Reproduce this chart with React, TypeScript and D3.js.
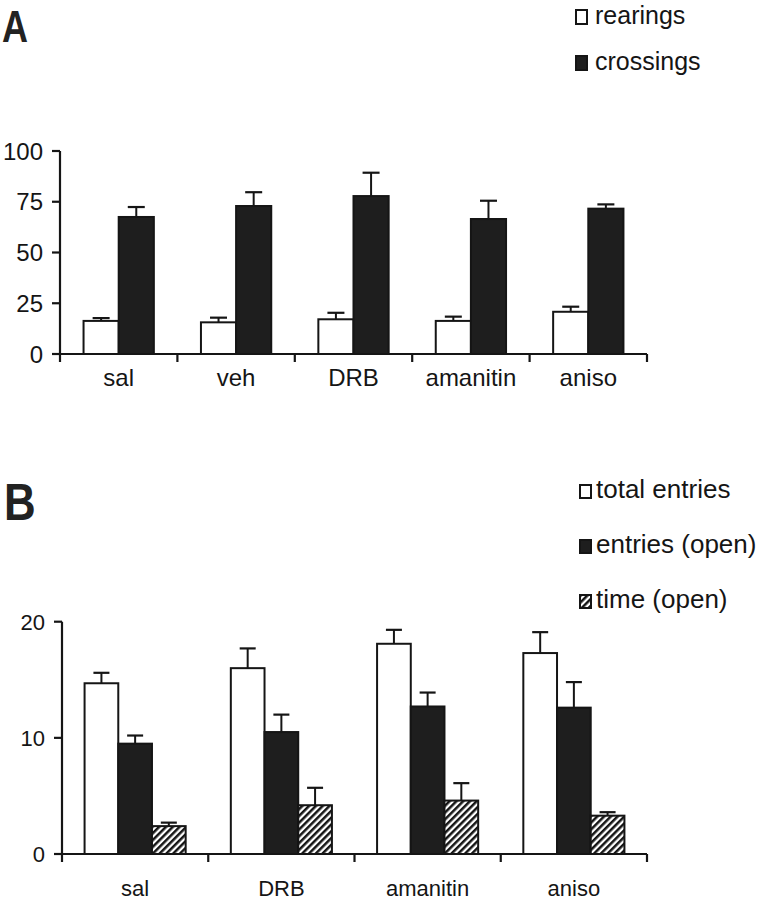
import React from "react";
import * as d3 from "d3";

const categoriesA = ["sal", "veh", "DRB", "amanitin", "aniso"];
const seriesA = ["rearings", "crossings"];
const rearings = [16.3, 15.6, 17.1, 16.3, 20.8];
const rearingsErr = [1.4, 2.3, 3.2, 2.1, 2.5];
const crossings = [67.5, 72.9, 77.8, 66.5, 71.6];
const crossingsErr = [4.9, 6.8, 11.5, 9.0, 2.1];
const ticksA = [0, 25, 50, 75, 100];

const categoriesB = ["sal", "DRB", "amanitin", "aniso"];
const seriesB = ["total entries", "entries (open)", "time (open)"];
const totalEntries = [14.7, 16.0, 18.1, 17.3];
const totalEntriesErr = [0.9, 1.7, 1.2, 1.8];
const entriesOpen = [9.5, 10.5, 12.7, 12.6];
const entriesOpenErr = [0.7, 1.5, 1.2, 2.2];
const timeOpen = [2.4, 4.2, 4.6, 3.3];
const timeOpenErr = [0.3, 1.5, 1.5, 0.3];
const ticksB = [0, 10, 20];

const FONT = "'Liberation Sans', Arial, Helvetica, sans-serif";
const INK = "#151515";
const DARK = "#1e1e1e";

type Panel = {
  cats: string[];
  series: string[];
  values: number[][];
  errs: number[][];
  fills: string[];
  ticks: number[];
  yMax: number;
  x0: number;
  x1: number;
  yTop: number;
  yBottom: number;
  tickFont: number;
  catFont: number;
  catBaseline: number;
  capW: number;
};

function BarPanel({ p }: { p: Panel }) {
  const x = d3.scaleBand<string>().domain(p.cats).range([p.x0, p.x1]).padding(0);
  const xs = d3
    .scaleBand<string>()
    .domain(p.series)
    .range([0, x.bandwidth()])
    .paddingInner(0)
    .paddingOuter(0.67);
  const y = d3.scaleLinear().domain([0, p.yMax]).range([p.yBottom, p.yTop]);
  const boundaries = p.cats.map((c) => x(c) as number).concat([p.x1]);
  return (
    <g>
      {p.cats.map((c, ci) =>
        p.series.map((s, si) => {
          const v = p.values[si][ci];
          const e = p.errs[si][ci];
          const bx = (x(c) as number) + (xs(s) as number);
          const bw = xs.bandwidth();
          const cx = bx + bw / 2;
          return (
            <g key={c + s}>
              <rect
                x={bx}
                y={y(v)}
                width={bw}
                height={y(0) - y(v)}
                fill={p.fills[si]}
                stroke={INK}
                strokeWidth={2}
              />
              <line x1={cx} x2={cx} y1={y(v)} y2={y(v + e)} stroke={INK} strokeWidth={2} />
              <line
                x1={cx - p.capW / 2}
                x2={cx + p.capW / 2}
                y1={y(v + e)}
                y2={y(v + e)}
                stroke={INK}
                strokeWidth={2.2}
              />
            </g>
          );
        })
      )}
      <line x1={p.x0} x2={p.x0} y1={y(p.yMax)} y2={y(0)} stroke={INK} strokeWidth={2.2} />
      {p.ticks.map((t) => (
        <g key={"t" + t}>
          <line x1={p.x0 - 8} x2={p.x0} y1={y(t)} y2={y(t)} stroke={INK} strokeWidth={2.2} />
          <text
            x={p.x0 - 17}
            y={y(t)}
            dy="0.36em"
            textAnchor="end"
            fontFamily={FONT}
            fontSize={p.tickFont}
            fill={INK}
          >
            {t}
          </text>
        </g>
      ))}
      <line x1={p.x0 - 8} x2={p.x1} y1={y(0)} y2={y(0)} stroke={INK} strokeWidth={2.2} />
      {boundaries.map((bx, i) => (
        <line key={"b" + i} x1={bx} x2={bx} y1={y(0)} y2={y(0) + 8} stroke={INK} strokeWidth={2.2} />
      ))}
      {p.cats.map((c) => (
        <text
          key={"c" + c}
          x={(x(c) as number) + x.bandwidth() / 2}
          y={p.catBaseline}
          textAnchor="middle"
          fontFamily={FONT}
          fontSize={p.catFont}
          fill={INK}
        >
          {c}
        </text>
      ))}
    </g>
  );
}

function Legend({
  items,
  fills,
  x,
  baselines,
  font,
  sw,
  sh,
  gap,
}: {
  items: string[];
  fills: string[];
  x: number;
  baselines: number[];
  font: number;
  sw: number;
  sh: number;
  gap: number;
}) {
  return (
    <g>
      {items.map((it, i) => (
        <g key={it}>
          <rect
            x={x}
            y={baselines[i] - sh}
            width={sw}
            height={sh}
            fill={fills[i]}
            stroke={INK}
            strokeWidth={2}
          />
          <text x={x + sw + gap} y={baselines[i]} fontFamily={FONT} fontSize={font} fill={INK}>
            {it}
          </text>
        </g>
      ))}
    </g>
  );
}

export default function App() {
  const panelA: Panel = {
    cats: categoriesA,
    series: seriesA,
    values: [rearings, crossings],
    errs: [rearingsErr, crossingsErr],
    fills: ["#ffffff", DARK],
    ticks: ticksA,
    yMax: 100,
    x0: 60,
    x1: 647,
    yTop: 151,
    yBottom: 354,
    tickFont: 24,
    catFont: 24,
    catBaseline: 386,
    capW: 17,
  };
  const panelB: Panel = {
    cats: categoriesB,
    series: seriesB,
    values: [totalEntries, entriesOpen, timeOpen],
    errs: [totalEntriesErr, entriesOpenErr, timeOpenErr],
    fills: ["#ffffff", DARK, "url(#hatch)"],
    ticks: ticksB,
    yMax: 20,
    x0: 62,
    x1: 647,
    yTop: 621.7,
    yBottom: 854,
    tickFont: 22,
    catFont: 22,
    catBaseline: 896,
    capW: 16,
  };
  return (
    <svg
      width={765}
      height={900}
      viewBox="0 0 765 900"
      style={{ position: "absolute", left: 0, top: 0, background: "#fff" }}
    >
      <defs>
        <pattern
          id="hatch"
          patternUnits="userSpaceOnUse"
          width={4.8}
          height={4.8}
          patternTransform="rotate(45)"
        >
          <rect x={0} y={0} width={4.8} height={4.8} fill="#fff" />
          <rect x={0} y={0} width={2.5} height={4.8} fill={INK} />
        </pattern>
      </defs>
      <rect x={0} y={0} width={765} height={900} fill="#fff" />
      <text
        transform="translate(2,42) scale(0.8,1)"
        fontFamily={FONT}
        fontWeight="bold"
        fontSize={45}
        fill="#222"
      >
        A
      </text>
      <text
        transform="translate(4,520) scale(0.86,1)"
        fontFamily={FONT}
        fontWeight="bold"
        fontSize={51}
        fill="#222"
      >
        B
      </text>
      <Legend
        items={seriesA}
        fills={["#ffffff", DARK]}
        x={576}
        baselines={[24, 70]}
        font={25}
        sw={11}
        sh={14}
        gap={8}
      />
      <Legend
        items={seriesB}
        fills={["#ffffff", DARK, "url(#hatch)"]}
        x={580}
        baselines={[498, 553, 608]}
        font={26}
        sw={11}
        sh={13}
        gap={5}
      />
      <BarPanel p={panelA} />
      <BarPanel p={panelB} />
    </svg>
  );
}
